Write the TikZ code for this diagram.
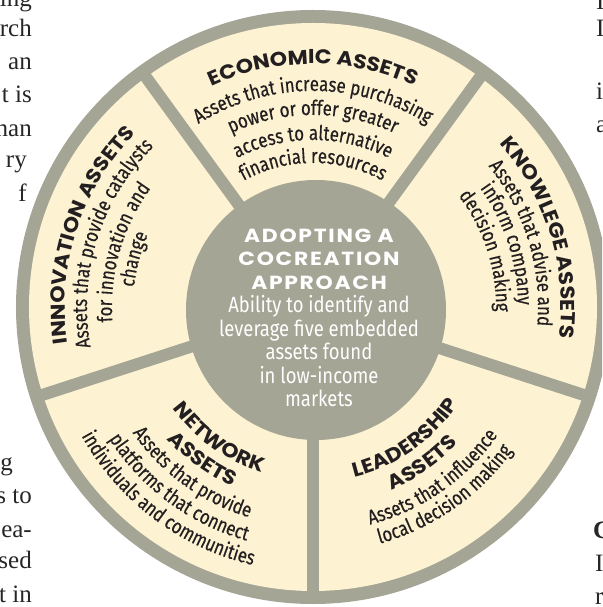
\documentclass[tikz,border=0pt]{standalone}
\usepackage{fontspec}
\usetikzlibrary{decorations.text}
\setmainfont{Liberation Serif}
\newfontfamily\headfont{Poppins}[FakeStretch=1.1]
\newfontfamily\hubheadfont{Poppins}[LetterSpace=9, FakeStretch=1.15]
\newfontfamily\bodyfont{Fira Sans}[FakeStretch=0.84]
\newfontfamily\segbodyfont{Fira Sans}[FakeStretch=0.82, FakeBold=0.4]
\definecolor{ring}{HTML}{A4A595}
\definecolor{cream}{HTML}{FDF3D3}
\definecolor{ink}{HTML}{231F20}
\newcommand{\segHead}{\color{ink}\headfont\bfseries\fontsize{20}{20}\selectfont}
\newcommand{\segBody}{\color{ink}\segbodyfont\fontsize{20.5}{20}\selectfont}
\newcommand{\hubHead}{\hubheadfont\bfseries\fontsize{19}{23.5}\selectfont}
\newcommand{\cwline}[3]{\path[decorate,decoration={text along path,text align=center,text={#3}}]
  (#2+75:#1pt) arc[start angle=#2+75,end angle=#2-75,radius=#1pt];}
\newcommand{\ccwline}[3]{\path[decorate,decoration={text along path,text align=center,text={#3}}]
  (#2-75:#1pt) arc[start angle=#2-75,end angle=#2+75,radius=#1pt];}
\tikzset{frag/.style={font=\fontsize{25}{25}\selectfont, text=black!85, inner sep=0pt}}
\begin{document}
\begin{tikzpicture}[x=1pt, y=1pt]
\useasboundingbox (-313,-300) rectangle (289,307);
\clip (-313,-300) rectangle (289,307);

\fill[ring] (0,0) circle[radius=297pt];
\fill[cream] (0,0) circle[radius=284pt];
\foreach \a in {54,126,198,270,342}
  \draw[ring, line width=12pt] (0,0) -- (\a:290);
\fill[ring] (3,-3) circle[radius=130pt];

\node[align=center, text=white, font=\bodyfont\fontsize{22}{23.5}\selectfont] (hub) at (6,-11)
  {{\hubHead ADOPTING A}\\{\hubHead COCREATION}\\{\hubHead APPROACH}\\Ability to identify and\\
   leverage five embedded\\assets found\\in low-income\\markets};

\cwline{243}{90}{|\segHead|ECONOMIC ASSETS}
\cwline{216}{90}{|\segBody|Assets that increase purchasing}
\cwline{192}{90}{|\segBody|power or offer greater}
\cwline{167}{90}{|\segBody|access to alternative}
\cwline{144}{90}{|\segBody|financial resources}

\cwline{248}{17}{|\segHead|KNOWLEGE ASSETS}
\cwline{225}{17}{|\segBody|Assets that advise and}
\cwline{205}{18}{|\segBody|inform company}
\cwline{183}{18}{|\segBody|decision making}

\cwline{248}{162}{|\segHead|INNOVATION ASSETS}
\cwline{226}{162.5}{|\segBody|Assets that provide catalysts}
\cwline{201}{164}{|\segBody|for innovation and}
\cwline{180}{165}{|\segBody|change}

\ccwline{173}{234.5}{|\segHead|NETWORK}
\ccwline{197}{234}{|\segHead|ASSETS}
\ccwline{220}{234}{|\segBody|Assets that provide}
\ccwline{243}{233.5}{|\segBody|platforms that connect}
\ccwline{265}{233}{|\segBody|individuals and communities}

\ccwline{175}{-55}{|\segHead|LEADERSHIP}
\ccwline{199}{-55}{|\segHead|ASSETS}
\ccwline{225}{-55}{|\segBody|Assets that influence}
\ccwline{246}{-55}{|\segBody|local decision making}

\foreach \w/\y [count=\i] in {ing/300, rch/270, an/237, t is/204, han/170}
  \node[frag, anchor=base east] (top\i) at (-281,\y) {\w};
\node[frag, anchor=base east] (top6) at (-286,139) {ry};
\node[frag, anchor=base east] (top7) at (-286,105) {f};
\node[frag, anchor=base east] (low1) at (-300,-163) {g};
\foreach \w/\y [count=\i from 2] in {s to/-196, ea-/-230, sed/-261, t in/-295}
  \node[frag, anchor=base east] (low\i) at (-281,\y) {\w};
\foreach \w/\y [count=\i] in {I/297, I/270, i/207, a/174}
  \node[frag, anchor=base west] (rtop\i) at (283,\y) {\w};
\node[frag, anchor=base west] (rlow1) at (280,-231) {\textbf{C}};
\node[frag, anchor=base west] (rlow2) at (282,-264) {I};
\node[frag, anchor=base west] (rlow3) at (282,-297) {r};

\end{tikzpicture}
\end{document}
